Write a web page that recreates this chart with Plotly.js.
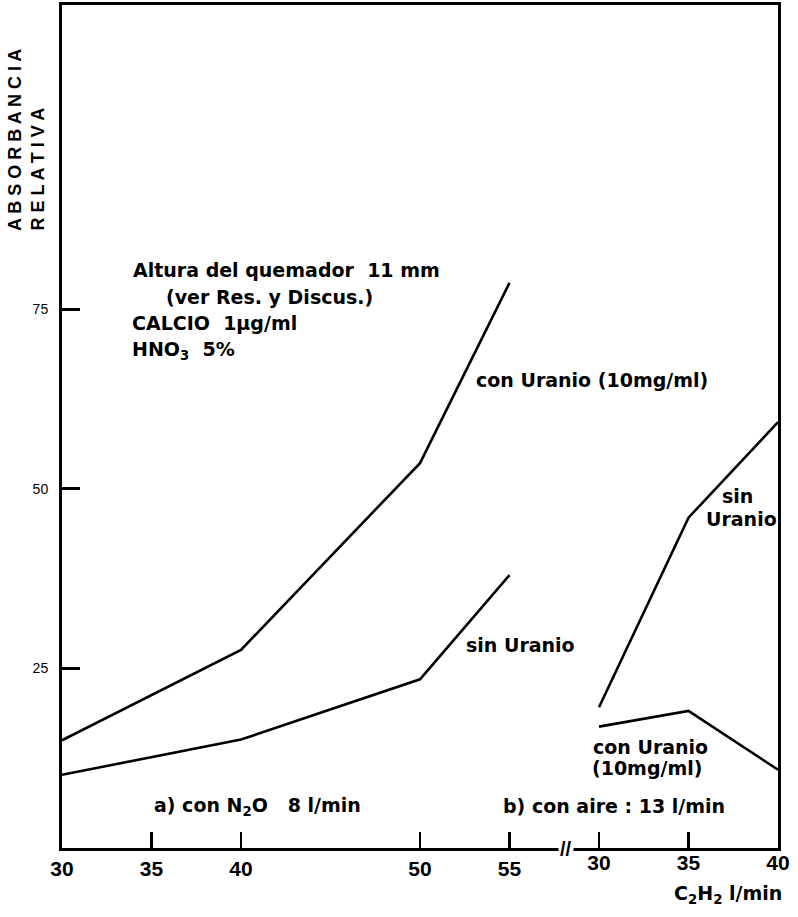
<!DOCTYPE html>
<html>
<head>
<meta charset="utf-8">
<script src="https://cdn.plot.ly/plotly-3.0.1.min.js"></script>
<style>html,body{margin:0;padding:0;background:#fff;}#chart{width:798px;height:917px;}</style>
</head>
<body>
<div id="chart"></div>
<script>
// a) con N2O 8 l/min  (C2H2 l/min)
const flowN2O = [30, 40, 50, 55];
const conUranioN2O = [15.0, 27.6, 53.6, 78.7];
const sinUranioN2O = [10.2, 15.1, 23.5, 38.0];
// b) con aire 13 l/min
const flowAire = [30, 35, 40];
const sinUranioAire = [19.6, 46.0, 59.3];
const conUranioAire = [16.9, 19.1, 10.9];

const ticksN2O = [30, 35, 40, 50, 55];
const ticksAire = [30, 35, 40];
const ticksY = [25, 50, 75];

const FONT = "DejaVu Sans, Verdana, sans-serif";
const TFONT = "Liberation Sans, Arial, sans-serif";
const lineStyle = {color: "#000", width: 2.6};

const traces = [
  {x: flowN2O, y: conUranioN2O, xaxis: "x", yaxis: "y", mode: "lines", line: lineStyle, name: "con Uranio (N2O)"},
  {x: flowN2O, y: sinUranioN2O, xaxis: "x", yaxis: "y", mode: "lines", line: lineStyle, name: "sin Uranio (N2O)"},
  {x: flowAire, y: sinUranioAire, xaxis: "x2", yaxis: "y", mode: "lines", line: lineStyle, name: "sin Uranio (aire)"},
  {x: flowAire, y: conUranioAire, xaxis: "x2", yaxis: "y", mode: "lines", line: lineStyle, name: "con Uranio (aire)"}
];

const L = 62, R = 20, T = 5, B = 69, W = 798, H = 917;
const pw = W - L - R, ph = H - T - B;
const px = v => (v - L) / pw;
const py = v => (H - B - v) / ph;

function f(size, fam) { return {family: fam || FONT, size: size, color: "#000", weight: "bold"}; }

function ann(text, x, y, opts) {
  return Object.assign({
    text: text, xref: "paper", yref: "paper", x: px(x), y: py(y),
    xanchor: "left", yanchor: "middle", showarrow: false,
    font: f(19)
  }, opts || {});
}

const annotations = [
  ann("Altura del quemador  11 mm", 131, 270, {font: f(19)}),
  ann("(ver Res. y Discus.)", 164, 297, {font: f(19)}),
  ann("CALCIO  1µg/ml", 130, 323, {font: f(19)}),
  ann("HNO<sub>3</sub>  5%", 130, 350, {font: f(19)}),
  ann("con Uranio (10mg/ml)", 474, 380),
  ann("sin Uranio", 464, 645),
  ann("sin", 737, 496, {xanchor: "center"}),
  ann("Uranio", 741, 519, {xanchor: "center"}),
  ann("con Uranio", 650, 747, {xanchor: "center"}),
  ann("(10mg/ml)", 647, 768, {xanchor: "center"}),
  ann("a) con N<sub>2</sub>O   8 l/min", 152, 806),
  ann("b) con aire : 13 l/min", 501, 806),
  ann("C<sub>2</sub>H<sub>2</sub> l/min", 784, 895, {xanchor: "right", font: f(19)}),
  ann("//", 566, 849, {xanchor: "center", bgcolor: "#fff", font: f(20, TFONT)}),
  ann("A B S O R B A N C I A", 15, 233, {textangle: -90, xanchor: "center", yanchor: "bottom", font: f(18, TFONT)}),
  ann("R E L A T I V A", 37, 233, {textangle: -90, xanchor: "center", yanchor: "bottom", font: f(18, TFONT)})
];

const layout = {
  width: W, height: H,
  margin: {l: L, r: R, t: T, b: B},
  paper_bgcolor: "#fff", plot_bgcolor: "#fff",
  showlegend: false,
  font: {family: TFONT, color: "#000"},
  xaxis: {
    range: [30, 70], showgrid: false, zeroline: false,
    showline: true, linecolor: "#000", linewidth: 3, mirror: true,
    ticks: "inside", ticklen: 16, tickwidth: 2.5, tickcolor: "#000",
    tickmode: "array", tickvals: ticksN2O, ticktext: ticksN2O.map(String),
    tickfont: f(21, TFONT)
  },
  xaxis2: {
    range: [0, 40], overlaying: "x", anchor: "y", side: "bottom",
    showgrid: false, zeroline: false, showline: false,
    ticks: "inside", ticklen: 16, tickwidth: 2.5, tickcolor: "#000",
    tickmode: "array", tickvals: ticksAire, ticktext: ticksAire.map(String),
    tickfont: f(21, TFONT)
  },
  yaxis: {
    range: [0, 117.4], showgrid: false, zeroline: false,
    showline: true, linecolor: "#000", linewidth: 3, mirror: true,
    ticks: "inside", ticklen: 18, tickwidth: 3, tickcolor: "#000",
    tickmode: "array", tickvals: ticksY, ticktext: ticksY.map(String),
    ticklabelstandoff: 8,
    tickfont: {family: TFONT, size: 14, color: "#000"}
  },
  annotations: annotations
};

Plotly.newPlot("chart", traces, layout, {staticPlot: true, displayModeBar: false});
</script>
</body>
</html>
